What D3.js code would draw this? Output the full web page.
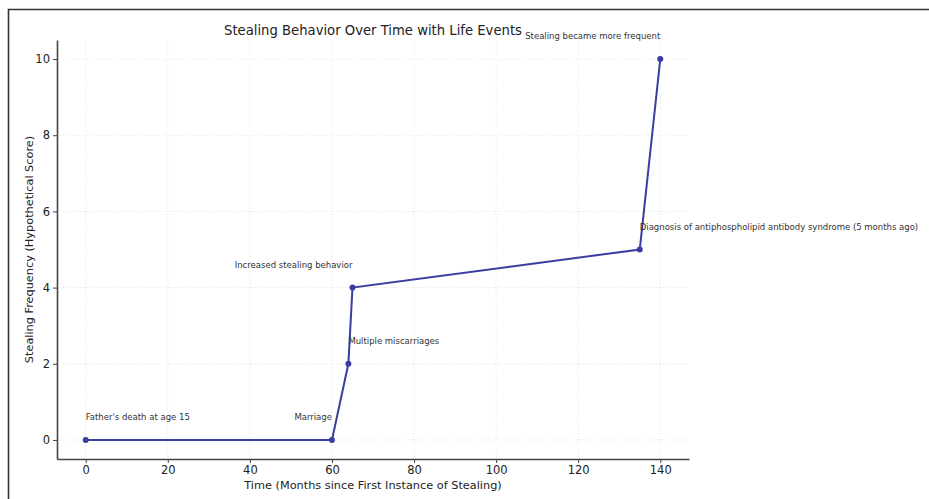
<!DOCTYPE html>
<html>
<head>
<meta charset="utf-8">
<script src="https://cdn.jsdelivr.net/npm/d3@7"></script>
<style>
  html, body { margin: 0; padding: 0; background: #fff; }
  svg { display: block; }
  text { font-family: "DejaVu Sans", sans-serif; }
</style>
</head>
<body>
<svg id="chart" width="929" height="499"></svg>
<script>
const months = [0, 60, 64, 65, 135, 140];
const scores = [0, 0, 2, 4, 5, 10];
const events = [
  "Father's death at age 15",
  "Marriage",
  "Multiple miscarriages",
  "Increased stealing behavior",
  "Diagnosis of antiphospholipid antibody syndrome (5 months ago)",
  "Stealing became more frequent"
];
const eventAnchor = ["start", "end", "start", "end", "start", "end"];
const xTicks = [0, 20, 40, 60, 80, 100, 120, 140];
const yTicks = [0, 2, 4, 6, 8, 10];

const svg = d3.select("#chart");
const W = 929, H = 499;

// frame border
svg.append("path")
  .attr("d", `M8.5,${H} L8.5,9.5 L${W},9.5`)
  .attr("fill", "none").attr("stroke", "#333").attr("stroke-width", 1.6);

const pL = 57, pR = 689, pT = 40, pB = 459;
const x = d3.scaleLinear().domain([-7, 147]).range([pL, pR]);
const y = d3.scaleLinear().domain([-0.5, 10.5]).range([pB, pT]);

// grid
const grid = svg.append("g");
grid.selectAll(".gx").data(xTicks).join("line")
  .attr("x1", d => x(d)).attr("x2", d => x(d))
  .attr("y1", pT).attr("y2", pB)
  .attr("stroke", "#dcdcdc").attr("stroke-width", 0.8).attr("stroke-dasharray", "1,2");
grid.selectAll(".gy").data(yTicks).join("line")
  .attr("x1", pL).attr("x2", pR)
  .attr("y1", d => y(d)).attr("y2", d => y(d))
  .attr("stroke", "#dcdcdc").attr("stroke-width", 0.8).attr("stroke-dasharray", "1,2");

// axes
const xAxis = svg.append("g").attr("transform", `translate(0,${pB})`)
  .call(d3.axisBottom(x).tickValues(xTicks).tickSize(4).tickSizeOuter(0));
const yAxis = svg.append("g").attr("transform", `translate(${pL},0)`)
  .call(d3.axisLeft(y).tickValues(yTicks).tickSize(4).tickSizeOuter(0));
[xAxis, yAxis].forEach(a => {
  a.select(".domain").attr("stroke", "#444").attr("stroke-width", 1.6);
  a.selectAll(".tick line").attr("stroke", "#444").attr("stroke-width", 1);
  a.selectAll(".tick text").attr("fill", "#222").attr("font-size", 11.5)
    .attr("font-family", "DejaVu Sans, sans-serif");
});
xAxis.selectAll(".tick text").attr("dy", "0.72em");

// line
const pts = months.map((m, i) => [m, scores[i]]);
svg.append("path").datum(pts)
  .attr("fill", "none").attr("stroke", "#3a3ea3").attr("stroke-width", 2)
  .attr("d", d3.line().x(d => x(d[0])).y(d => y(d[1])));
svg.selectAll(".pt").data(pts).join("circle")
  .attr("cx", d => x(d[0])).attr("cy", d => y(d[1])).attr("r", 3)
  .attr("fill", "#3a3ea3");

// annotations
svg.selectAll(".ann").data(pts).join("text")
  .attr("x", d => x(d[0])).attr("y", d => y(d[1]) - 20)
  .attr("text-anchor", (d, i) => eventAnchor[i])
  .attr("font-size", 8.5).attr("fill", "#333")
  .text((d, i) => events[i]);

// title and labels
svg.append("text").attr("x", (pL + pR) / 2).attr("y", 35)
  .attr("text-anchor", "middle").attr("font-size", 13.2).attr("fill", "#222")
  .text("Stealing Behavior Over Time with Life Events");
svg.append("text").attr("x", (pL + pR) / 2).attr("y", 489)
  .attr("text-anchor", "middle").attr("font-size", 11.3).attr("fill", "#222")
  .text("Time (Months since First Instance of Stealing)");
svg.append("text")
  .attr("transform", `translate(33,${(pT + pB) / 2}) rotate(-90)`)
  .attr("text-anchor", "middle").attr("font-size", 11.3).attr("fill", "#222")
  .text("Stealing Frequency (Hypothetical Score)");
</script>
</body>
</html>
